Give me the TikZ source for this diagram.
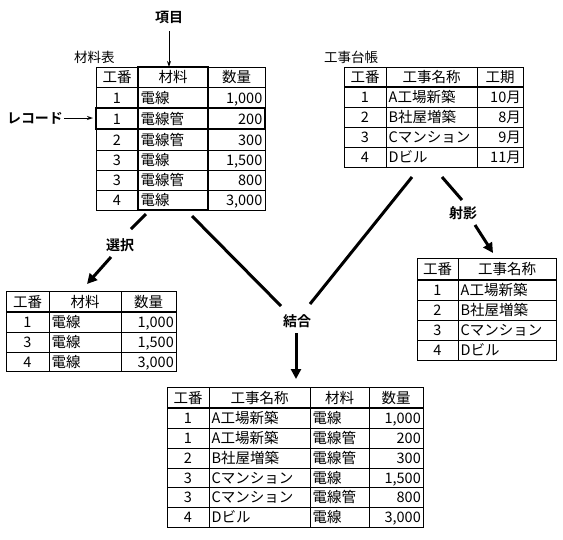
\documentclass[tikz,border=0pt]{standalone}
\usepackage{fontspec}
\newfontfamily\cjk{Noto Sans CJK JP}[BoldFont={Noto Sans CJK JP Bold}]
\usetikzlibrary{arrows.meta}
\begin{document}
\begin{tikzpicture}[x=1pt,y=-1pt,
  cell/.style={inner sep=0pt, anchor=base, font=\cjk\fontsize{14.5}{15}\selectfont},
  lc/.style={cell,anchor=base west},
  rc/.style={cell,anchor=base east},
  capt/.style={inner sep=0pt, anchor=west, font=\cjk\fontsize{13.5}{14}\selectfont},
  lab/.style={inner sep=0pt, font=\cjk\bfseries\fontsize{14}{14}\selectfont},
  gline/.style={line width=1pt},
  bline/.style={line width=2pt},
  conn/.style={line width=3pt},
  bigarrow/.style={line width=3pt, -{Triangle[length=10pt,width=10pt]}},
  smallarrow/.style={line width=1pt, -{Stealth[length=6pt,width=4pt]}},
]
\useasboundingbox (0,0) rectangle (563,539);

% ---------------- Table 1: 材料表
\node[capt] (t1cap) at (74,57) {材料表};
\draw[gline] (96,67) rectangle (265,210);
\foreach \r in {87,108,129,150,170,190} \draw[gline] (96,\r) -- (265,\r);
\draw[gline] (138,67) -- (138,210) (208,67) -- (208,210);
\draw[bline] (138,67) rectangle (208,210);
\draw[bline] (96,108) rectangle (265,129);
\node[cell] (t1h1) at (117,82.5) {工番};
\node[cell] (t1h2) at (173,82.5) {材料};
\node[cell] (t1h3) at (236.5,82.5) {数量};
\foreach \y/\a/\b/\c [count=\i] in {103/1/電線/{1,000},124/1/電線管/200,145/2/電線管/300,165.5/3/電線/{1,500},185.5/3/電線管/800,205.5/4/電線/{3,000}}{
  \node[cell] (t1a\i) at (117,\y) {\a};
  \node[lc] (t1b\i) at (140.5,\y) {\b};
  \node[rc] (t1c\i) at (262.5,\y) {\c};
}

% ---------------- Table 2: 工事台帳
\node[capt] (t2cap) at (324,57) {工事台帳};
\draw[gline] (344,67) rectangle (523,167);
\foreach \r in {107,127,147} \draw[gline] (344,\r) -- (523,\r);
\draw[bline] (344,87) -- (523,87);
\draw[gline] (386,67) -- (386,167) (477,67) -- (477,167);
\node[cell] (t2h1) at (365,82.5) {工番};
\node[cell] (t2h2) at (431.5,82.5) {工事名称};
\node[cell] (t2h3) at (500,82.5) {工期};
\foreach \y/\a/\b/\c [count=\i] in {102.5/1/A工場新築/10月,122.5/2/B社屋増築/8月,142.5/3/Cマンション/9月,162.5/4/Dビル/11月}{
  \node[cell] (t2a\i) at (365,\y) {\a};
  \node[lc] (t2b\i) at (388.5,\y) {\b};
  \node[rc] (t2c\i) at (521,\y) {\c};
}

% ---------------- Table 3: 選択
\draw[gline] (6,291) rectangle (176,371);
\foreach \r in {332,352} \draw[gline] (6,\r) -- (176,\r);
\draw[bline] (6,312) -- (176,312);
\draw[gline] (49,291) -- (49,371) (121,291) -- (121,371);
\node[cell] (t3h1) at (27.5,307) {工番};
\node[cell] (t3h2) at (85,307) {材料};
\node[cell] (t3h3) at (148.5,307) {数量};
\foreach \y/\a/\b/\c [count=\i] in {327.5/1/電線/{1,000},347.5/3/電線/{1,500},367/4/電線/{3,000}}{
  \node[cell] (t3a\i) at (27.5,\y) {\a};
  \node[lc] (t3b\i) at (51.5,\y) {\b};
  \node[rc] (t3c\i) at (174,\y) {\c};
}

% ---------------- Table 4: 射影
\draw[gline] (417,258) rectangle (556,360);
\foreach \r in {300,320,340} \draw[gline] (417,\r) -- (556,\r);
\draw[bline] (417,280) -- (556,280);
\draw[gline] (458,258) -- (458,360);
\node[cell] (t4h1) at (437.5,274.5) {工番};
\node[cell] (t4h2) at (507,274.5) {工事名称};
\foreach \y/\a/\b [count=\i] in {295.5/1/A工場新築,315.5/2/B社屋増築,335.5/3/Cマンション,355.5/4/Dビル}{
  \node[cell] (t4a\i) at (437.5,\y) {\a};
  \node[lc] (t4b\i) at (460.5,\y) {\b};
}

% ---------------- Table 5: 結合
\draw[gline] (167,387) rectangle (423,527);
\foreach \r in {428,448,468,487,507} \draw[gline] (167,\r) -- (423,\r);
\draw[bline] (167,408) -- (423,408);
\draw[gline] (209,387) -- (209,527) (310,387) -- (310,527) (369,387) -- (369,527);
\node[cell] (t5h1) at (188,403) {工番};
\node[cell] (t5h2) at (259.5,403) {工事名称};
\node[cell] (t5h3) at (339.5,403) {材料};
\node[cell] (t5h4) at (396,403) {数量};
\foreach \y/\a/\b/\c/\d [count=\i] in {423.5/1/A工場新築/電線/{1,000},443.5/1/A工場新築/電線管/200,463.5/2/B社屋増築/電線管/300,483/3/Cマンション/電線/{1,500},502.5/3/Cマンション/電線管/800,522.5/4/Dビル/電線/{3,000}}{
  \node[cell] (t5a\i) at (188,\y) {\a};
  \node[lc] (t5b\i) at (211.5,\y) {\b};
  \node[lc] (t5c\i) at (312.5,\y) {\c};
  \node[rc] (t5d\i) at (421,\y) {\d};
}

% ---------------- labels
\node[lab] (koumoku) at (169,17) {項目};
\node[lab] (record) at (35,118) {レコード};
\node[lab] (sentaku) at (120,245) {選択};
\node[lab] (shaei) at (463,213) {射影};
\node[lab] (ketsugou) at (297,321) {結合};

% ---------------- connector end points
\coordinate (kA) at (169,31);
\coordinate (kB) at (169,67);
\coordinate (rA) at (64,118);
\coordinate (rB) at (93,118);
\coordinate (sA) at (146,214);
\coordinate (sB) at (131,229);
\coordinate (sC) at (111,257);
\coordinate (sD) at (87,284);
\coordinate (pA) at (442,177);
\coordinate (pB) at (462,200);
\coordinate (pC) at (475,225);
\coordinate (pD) at (493,253);
\coordinate (jA) at (192,216);
\coordinate (jB) at (281,306);
\coordinate (jC) at (412,177);
\coordinate (jD) at (310,304);
\coordinate (jE) at (296,333);
\coordinate (jF) at (296,379);

% ---------------- connectors
\draw[smallarrow] (kA) -- (kB);
\draw[smallarrow] (rA) -- (rB);
\draw[conn] (sA) -- (sB);
\draw[bigarrow] (sC) -- (sD);
\draw[conn] (pA) -- (pB);
\draw[bigarrow] (pC) -- (pD);
\draw[conn] (jA) -- (jB);
\draw[conn] (jC) -- (jD);
\draw[bigarrow] (jE) -- (jF);
\end{tikzpicture}
\end{document}
